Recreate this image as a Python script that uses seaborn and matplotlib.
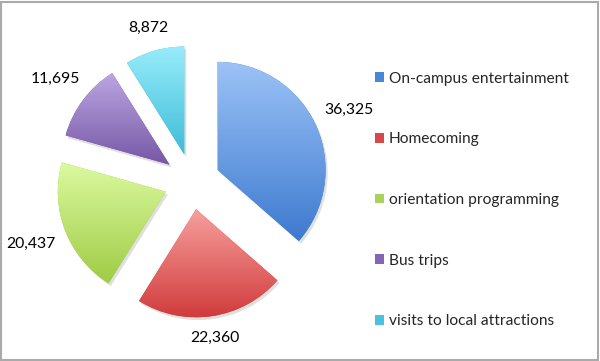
import numpy as np
import matplotlib.pyplot as plt
import seaborn as sns
import matplotlib.patheffects as pe
from matplotlib.colors import LinearSegmentedColormap
from matplotlib.patches import Rectangle

# data
categories = ['On-campus entertainment', 'Homecoming', 'orientation programming',
              'Bus trips', 'visits to local attractions']
visits = [36325, 22360, 20437, 11695, 8872]
value_labels = ['{:,}'.format(v) for v in visits]

# gradient colours, top -> bottom of each slice
top_colors = ['#9dc3f7', '#f7a09d', '#dcf9a0', '#bba6e1', '#97ecfa']
bottom_colors = ['#3d7acf', '#d0393a', '#9fcc45', '#7657a6', '#3dbcd8']
key_colors = ['#4a86d8', '#d9474a', '#a8d25a', '#8466b4', '#47c3df']

sns.set_theme(style='white')
plt.rcParams['font.family'] = ['Lato', 'DejaVu Sans']

W, H = 600, 361
R_PX = 108.0          # pie radius in pixels
CX, CY = 192.0, 181.5  # pie centre (pixels from top-left)

fig = plt.figure(figsize=(W / 100, H / 100), dpi=100)
fig.patch.set_facecolor('white')
ax = fig.add_axes([0, 0, 1, 1])

wedges, texts = ax.pie(visits, labels=value_labels, startangle=90, counterclock=False,
                       explode=[0.26] * len(visits), radius=1, labeldistance=1.3,
                       textprops=dict(fontsize=11.3, color='black'),
                       wedgeprops=dict(linewidth=0))

grad = np.linspace(0, 1, 256).reshape(-1, 1)
for w, c_top, c_bot in zip(wedges, top_colors, bottom_colors):
    w.set_facecolor(c_bot)
    w.set_path_effects([pe.SimplePatchShadow(offset=(1.5, -2), alpha=0.25, shadow_rgbFace='gray'),
                        pe.Normal()])
    v = w.get_path().vertices
    cmap = LinearSegmentedColormap.from_list('g', [c_top, c_bot])
    im = ax.imshow(grad, cmap=cmap, aspect='auto', interpolation='bicubic',
                   extent=[v[:, 0].min(), v[:, 0].max(), v[:, 1].min(), v[:, 1].max()],
                   zorder=w.get_zorder() + 0.1)
    im.set_clip_path(w)

ax.set_aspect('auto')
ax.set_xlim(-CX / R_PX, (W - CX) / R_PX)
ax.set_ylim(-(H - CY) / R_PX, CY / R_PX)
ax.axis('off')

# put each value just outside its slice, like Excel's "outside end"
fig.canvas.draw()
rend = fig.canvas.get_renderer()
gap = 11.0
for w, t in zip(wedges, texts):
    ang = np.deg2rad((w.theta1 + w.theta2) / 2)
    bb = t.get_window_extent(rend)
    d = R_PX + gap + abs(np.cos(ang)) * bb.width / 2 + abs(np.sin(ang)) * bb.height / 2
    t.set_position((w.center[0] + d / R_PX * np.cos(ang),
                    w.center[1] + d / R_PX * np.sin(ang)))
    t.set_ha('center')
    t.set_va('center')

handles = [Rectangle((0, 0), 1, 1, facecolor=c, edgecolor='none') for c in key_colors]
fig.legend(handles, categories, loc='center left', bbox_to_anchor=(375 / W, 1 - 200 / H),
           frameon=False, fontsize=11.2, handlelength=0.6, handleheight=0.6,
           handletextpad=0.3, labelspacing=3.0, borderpad=0, borderaxespad=0)

fig.patches.append(Rectangle((1 / W, 1 / H), 1 - 3 / W, 1 - 3 / H, transform=fig.transFigure,
                             fill=False, edgecolor='#aaaaaa', linewidth=1.5))

fig.savefig('out.png', dpi=100)
